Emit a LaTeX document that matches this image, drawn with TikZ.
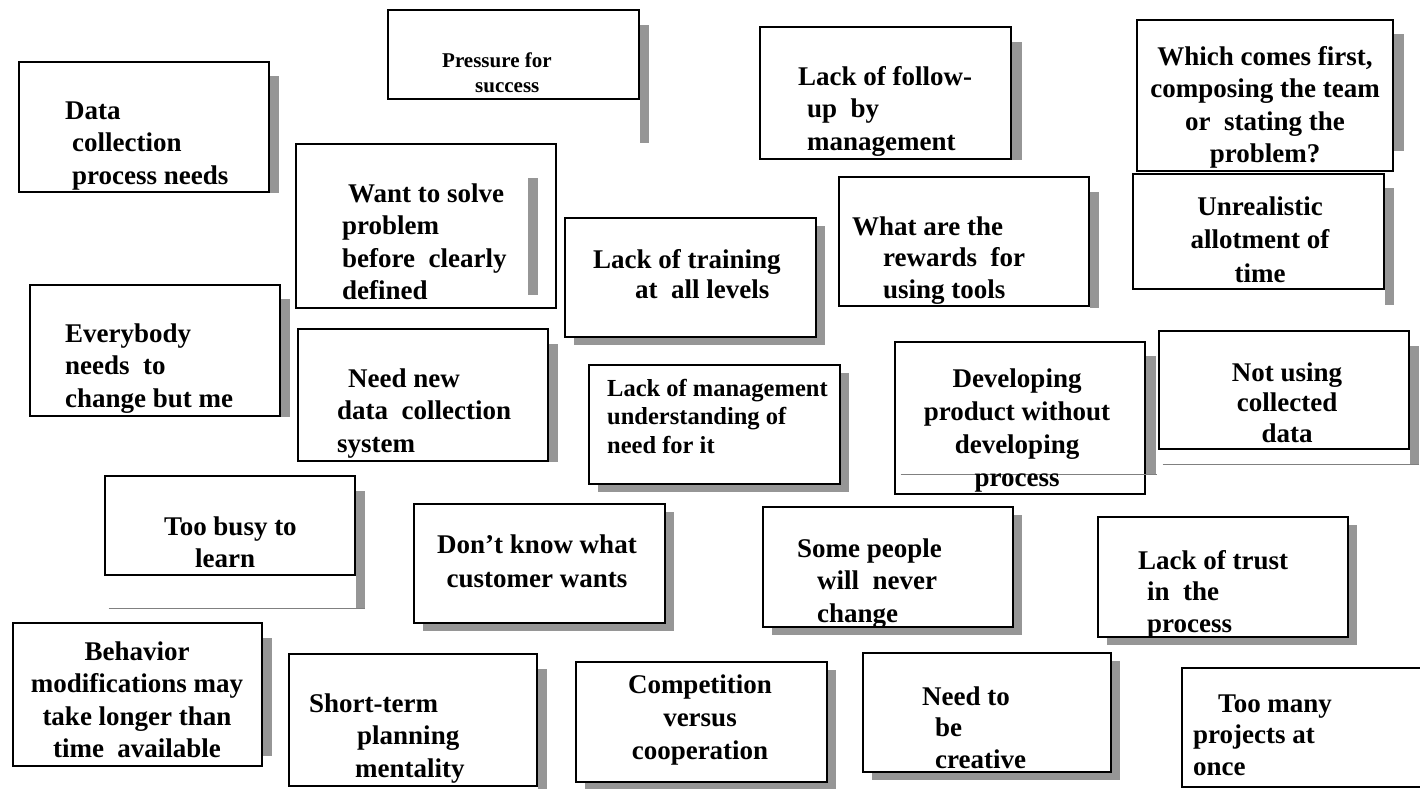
\documentclass[tikz,border=0pt]{standalone}
\usepackage{fontspec}
\setmainfont{Liberation Serif}
\usepackage{xcolor}
\usetikzlibrary{fit,shadows,backgrounds}
\definecolor{shadowgray}{RGB}{150,150,150}
\newcommand{\causefont}{\fontsize{27}{32.5}\selectfont\bfseries}
\newcommand{\causelead}[1]{\fontsize{27}{#1}\selectfont\bfseries}
\tikzset{
    % The frame around each cause
    causebox/.style={
        draw=black,
        line width=2.8pt,
        fill=white,
        inner sep=0pt,
        rectangle
    },
    % Offset shadow, right and bottom
    fullshadow/.style={
        drop shadow={shadow xshift=9pt, shadow yshift=-8pt, fill=shadowgray, opacity=1}
    },
    % Grey strip, right side only
    sidebar/.style={fill=shadowgray, draw=none},
    % Texts of the causes (placed by the baseline of their last line)
    causetext/.style={inner sep=0pt, anchor=base west, align=left, font=\causefont},
    centertext/.style={inner sep=0pt, anchor=base, align=center, font=\causefont},
    thinrule/.style={draw=gray, line width=1pt}
}

\begin{document}
\begin{tikzpicture}[x=1pt, y=-1pt]
        \useasboundingbox (0,0) rectangle (1420,788);

        % --- 1. The frames ---
        % Top row
        \node[causebox, fit={(19,62) (269,192)}] (data) {};
        \node[causebox, fit={(388,10) (639,99)}] (press) {};
        \node[causebox, fit={(760,27) (1011,159)}] (follow) {};
        \node[causebox, fit={(1137,20) (1393,171)}] (which) {};
        \node[causebox, fit={(1133,174) (1384,289)}] (unreal) {};
        \node[causebox, fit={(296,144) (556,308)}] (want) {};
        \node[causebox, fullshadow, fit={(565,218) (816,337)}] (train) {};
        \node[causebox, fit={(839,177) (1089,306)}] (rewards) {};

        % Middle rows
        \node[causebox, fit={(30,285) (280,416)}] (every) {};
        \node[causebox, fit={(298,329) (548,461)}] (neednew) {};
        \node[causebox, fullshadow, fit={(589,365) (840,484)}] (mgmt) {};
        \node[causebox, fit={(895,342) (1145,494)}] (develop) {};
        \node[causebox, fit={(1159,331) (1409,449)}] (notusing) {};
        \node[causebox, fit={(105,476) (355,575)}] (toobusy) {};
        \node[causebox, fullshadow, fit={(414,504) (665,623)}] (dontknow) {};
        \node[causebox, fullshadow, fit={(763,507) (1013,627)}] (some) {};
        \node[causebox, fullshadow, fit={(1098,517) (1348,637)}] (trust) {};

        % Bottom row
        \node[causebox, fit={(13,623) (262,766)}] (behav) {};
        \node[causebox, fit={(289,654) (537,786)}] (short) {};
        \node[causebox, fullshadow, fit={(576,662) (827,782)}] (comp) {};
        \node[causebox, fullshadow, fit={(863,653) (1111,772)}] (creative) {};
        \node[causebox, fit={(1182,668) (1428,787)}] (toomany) {};

        % --- 2. Grey strips on the right side ---
        \begin{scope}[on background layer]
            \fill[sidebar] ([yshift=-15pt]data.north east) rectangle ([xshift=9pt]data.south east);
            \fill[sidebar] ([yshift=-16pt]press.north east) rectangle ([xshift=9pt,yshift=-43pt]press.south east);
            \fill[sidebar] ([yshift=-16pt]follow.north east) rectangle ([xshift=10pt]follow.south east);
            \fill[sidebar] ([yshift=-15pt]which.north east) rectangle ([xshift=10pt,yshift=21pt]which.south east);
            \fill[sidebar] ([yshift=-15pt]unreal.north east) rectangle ([xshift=9pt,yshift=-15pt]unreal.south east);
            \fill[sidebar] ([yshift=-16pt]rewards.north east) rectangle ([xshift=9pt,yshift=-1pt]rewards.south east);
            \fill[sidebar] ([yshift=-15pt]every.north east) rectangle ([xshift=9pt]every.south east);
            \fill[sidebar] ([yshift=-16pt]neednew.north east) rectangle ([xshift=9pt]neednew.south east);
            \fill[sidebar] ([yshift=-15pt]develop.north east) rectangle ([xshift=10pt,yshift=21pt]develop.south east);
            \fill[sidebar] ([yshift=-16pt]notusing.north east) rectangle ([xshift=9pt,yshift=-14pt]notusing.south east);
            \fill[sidebar] ([yshift=-16pt]toobusy.north east) rectangle ([xshift=9pt,yshift=-32pt]toobusy.south east);
            \fill[sidebar] ([yshift=-16pt]behav.north east) rectangle ([xshift=9pt,yshift=11pt]behav.south east);
            \fill[sidebar] ([yshift=-16pt]short.north east) rectangle ([xshift=9pt,yshift=-3pt]short.south east);
        \end{scope}

        % strip drawn inside the frame
        \fill[sidebar] ([xshift=-29pt,yshift=-35pt]want.north east) rectangle ([xshift=-19pt,yshift=14pt]want.south east);

        % thin grey rules
        \draw[thinrule] ([xshift=5pt,yshift=-32pt]toobusy.south west) -- ([xshift=9pt,yshift=-32pt]toobusy.south east);
        \draw[thinrule] ([xshift=7pt,yshift=21pt]develop.south west) -- ([xshift=11pt,yshift=21pt]develop.south east);
        \draw[thinrule] ([xshift=5pt,yshift=-14pt]notusing.south west) -- ([xshift=9pt,yshift=-14pt]notusing.south east);

        % --- 3. The texts ---
        \node[causetext] (data-t) at (65,184) {Data\\\hspace*{7pt}collection\\\hspace*{7pt}process needs};
        \node[causetext, font={\fontsize{21}{25}\selectfont\bfseries}] (press-t) at (442,92) {Pressure for\\\hspace*{33pt}success};
        \node[causetext] (follow-t) at (798,150) {Lack of follow-\\\hspace*{9pt}up~~by\\\hspace*{9pt}management};
        \node[centertext] (which-t) at (1265,162.5) {Which comes first,\\composing the team\\or~~stating the\\problem?};
        \node[centertext, font=\causelead{33.5}] (unreal-t) at (1260,282) {Unrealistic\\allotment of\\time};
        \node[causetext] (want-t) at (342,299.5) {\hspace*{6pt}Want to solve\\problem\\before~~clearly\\defined};
        \node[causetext, font=\causelead{30.5}] (train-t) at (593,298.5) {Lack of training\\\hspace*{42pt}at~~all levels};
        \node[causetext, font=\causelead{31.5}] (rewards-t) at (852,298) {What are the\\\hspace*{31pt}rewards~~for\\\hspace*{31pt}using tools};

        \node[causetext] (every-t) at (65,407) {Everybody\\needs~~to\\change but me};
        \node[causetext] (neednew-t) at (337,452) {\hspace*{11pt}Need new\\data~~collection\\system};
        \node[causetext, font={\fontsize{24.5}{28.5}\selectfont\bfseries}] (mgmt-t) at (607,453) {Lack of management\\understanding of\\need for it};
        \node[centertext, font=\causelead{33}] (develop-t) at (1017,486) {Developing\\product without\\developing\\process};
        \node[centertext, font=\causelead{30.5}] (notusing-t) at (1287,442) {Not using\\collected\\data};
        \node[causetext, font=\causelead{32}] (toobusy-t) at (164,567) {Too busy to\\\hspace*{31pt}learn};
        \node[centertext, font=\causelead{34}] (dontknow-t) at (537,587) {Don’t know what\\customer wants};
        \node[causetext] (some-t) at (797,622) {Some people\\\hspace*{20pt}will~~never\\\hspace*{20pt}change};
        \node[causetext, font=\causelead{31.5}] (trust-t) at (1138,632) {Lack of trust\\\hspace*{9pt}in~~the\\\hspace*{9pt}process};

        \node[centertext] (behav-t) at (137,757.5) {Behavior\\modifications may\\take longer than\\time~~available};
        \node[causetext] (short-t) at (309,777) {Short-term\\\hspace*{48pt}planning\\\hspace*{46pt}mentality};
        \node[centertext, font=\causelead{33}] (comp-t) at (700,759) {Competition\\versus\\cooperation};
        \node[causetext, font=\causelead{31.5}] (creative-t) at (922,768) {Need to\\\hspace*{13pt}be\\\hspace*{13pt}creative};
        \node[causetext, font=\causelead{31.5}] (toomany-t) at (1193,775) {\hspace*{25pt}Too many\\projects at\\once};
    \end{tikzpicture}
\end{document}
